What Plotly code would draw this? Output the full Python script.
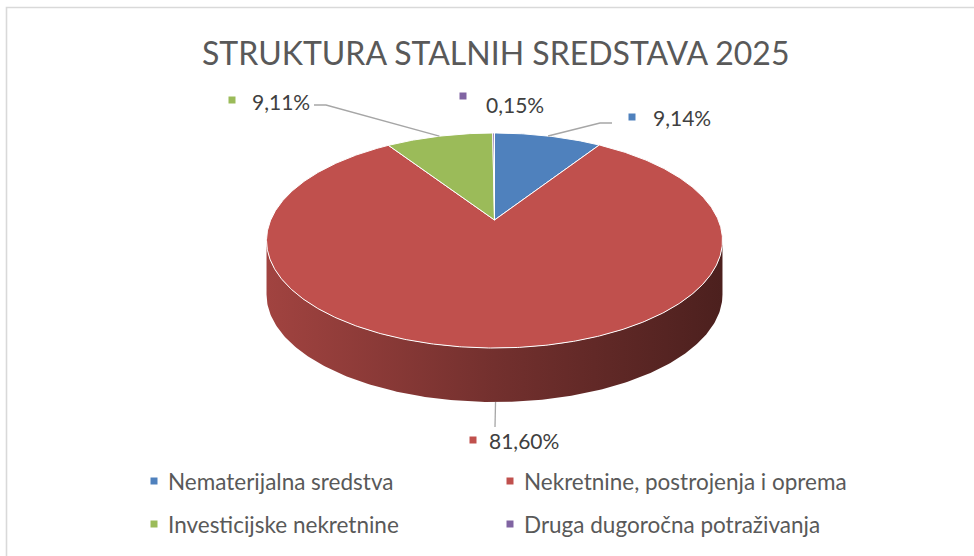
import numpy as np
import plotly.graph_objects as go

# ---------------- data ----------------
CATEGORIES = [
    "Nematerijalna sredstva",
    "Nekretnine, postrojenja i oprema",
    "Investicijske nekretnine",
    "Druga dugoročna potraživanja",
]
SHARES = [9.14, 81.60, 9.11, 0.15]
COLORS = ["#4F81BD", "#C0504D", "#9BBB59", "#8064A2"]
TITLE = "STRUKTURA STALNIH SREDSTAVA 2025"

# ---------------- layout constants (pixel space) ----------------
W, H = 974, 556
CX, CY = 494.5, 220.0      # projected pie centre (apex)
A, B, K = 223.8, 103.6, 0.1907   # perspective projection parameters
DEPTH = 54.0
FONT = "Lato"
TXT = "#404040"

LABEL_POS = [(651, 117), (487, 440), (250, 101), (484, 104)]
KEY_POS = [(632, 117), (473, 440), (232, 100), (463, 96)]
LEADER_ELBOW = [[(600, 123), (612, 123)], [(495, 427)], [(326, 105), (314, 105)], None]
LEGEND_POS = [(166, 481), (522, 481), (166, 524), (522, 524)]


def proj(phi, dy=0.0):
    r = np.radians(phi)
    u, v = np.sin(r), np.cos(r)
    d = 1 + K * v
    return CX + A * u / d, CY - B * v / d + dy


def shade(hexcol, f):
    h = hexcol.lstrip("#")
    r, g, b = (int(h[i:i + 2], 16) for i in (0, 2, 4))
    return "rgb(%d,%d,%d)" % (r * f, g * f, b * f)


total = sum(SHARES)
bounds = np.concatenate([[0], np.cumsum(SHARES) / total * 360])

fig = go.Figure()

# side walls (front visible part)
front_l = np.degrees(np.arccos(-K))
front_r = 360 - front_l
for i, col in enumerate(COLORS):
    a0, a1 = max(bounds[i], front_l), min(bounds[i + 1], front_r)
    if a1 <= a0:
        continue
    ph = np.linspace(a0, a1, 200)
    tx, ty = proj(ph)
    bx, by = proj(ph[::-1], DEPTH)
    fig.add_trace(go.Scatter(
        x=np.concatenate([tx, bx, tx[:1]]), y=np.concatenate([ty, by, ty[:1]]),
        mode="lines", fill="toself", line=dict(width=0, color=col),
        fillgradient=dict(type="horizontal",
                          colorscale=[[0, shade(col, 0.84)], [0.5, shade(col, 0.6)], [1, shade(col, 0.4)]]),
        hoverinfo="skip", showlegend=False))

# top faces
for i, col in enumerate(COLORS):
    ph = np.linspace(bounds[i], bounds[i + 1], max(3, int((bounds[i + 1] - bounds[i]) * 2)))
    x, y = proj(ph)
    fig.add_trace(go.Scatter(
        x=np.concatenate([[CX], x, [CX]]), y=np.concatenate([[CY], y, [CY]]),
        mode="lines", fill="toself", fillcolor=col,
        line=dict(width=1, color="white"),
        name=CATEGORIES[i], hoverinfo="name", showlegend=False))

# leader lines
for i in range(len(SHARES)):
    if LEADER_ELBOW[i] is None:
        continue
    mid = (bounds[i] + bounds[i + 1]) / 2
    if front_l < mid < front_r:
        ax, ay = proj(mid, DEPTH)
    else:
        ax, ay = proj(mid)
    pts = [(ax, ay)] + LEADER_ELBOW[i]
    fig.add_trace(go.Scatter(x=[p[0] for p in pts], y=[p[1] for p in pts], mode="lines",
                             line=dict(color="#A6A6A6", width=1.3), hoverinfo="skip", showlegend=False))

shapes = []
annotations = []
# data labels
for i, v in enumerate(SHARES):
    kx, ky = KEY_POS[i]
    shapes.append(dict(type="rect", xref="x", yref="y", x0=kx - 3.5, x1=kx + 3.5, y0=ky - 3.5, y1=ky + 3.5,
                       fillcolor=COLORS[i], line=dict(width=0)))
    lx, ly = LABEL_POS[i]
    annotations.append(dict(x=lx, y=ly, xref="x", yref="y", xanchor="left", yanchor="middle",
                            text=("%.2f" % v).replace(".", ",") + "%", showarrow=False,
                            font=dict(family=FONT, size=21, color=TXT)))
# legend
for i, name in enumerate(CATEGORIES):
    lx, ly = LEGEND_POS[i]
    shapes.append(dict(type="rect", xref="x", yref="y", x0=lx - 15.5, x1=lx - 8.5, y0=ly - 3.5, y1=ly + 3.5,
                       fillcolor=COLORS[i], line=dict(width=0)))
    annotations.append(dict(x=lx, y=ly, xref="x", yref="y", xanchor="left", yanchor="middle",
                            text=name, showarrow=False,
                            font=dict(family=FONT, size=22.5, color="#595959")))
# title
annotations.append(dict(x=495, y=52, xref="x", yref="y", xanchor="center", yanchor="middle",
                        text=TITLE, showarrow=False, font=dict(family=FONT, size=32, color="#595959")))
# chart border
shapes.append(dict(type="rect", xref="paper", yref="paper", x0=6.5 / W, x1=1.05, y0=-0.05, y1=1 - 7.5 / H,
                   line=dict(color="#D9D9D9", width=1.6), fillcolor="rgba(0,0,0,0)", layer="below"))

fig.update_layout(
    width=W, height=H, margin=dict(l=0, r=0, t=0, b=0),
    paper_bgcolor="white", plot_bgcolor="white",
    xaxis=dict(range=[0, W], visible=False, fixedrange=True),
    yaxis=dict(range=[H, 0], visible=False, fixedrange=True),
    shapes=shapes, annotations=annotations, showlegend=False,
)
fig.write_html("out.html", config={"displayModeBar": False},
               post_script="document.body.style.margin='0';document.body.style.overflow='hidden';")
